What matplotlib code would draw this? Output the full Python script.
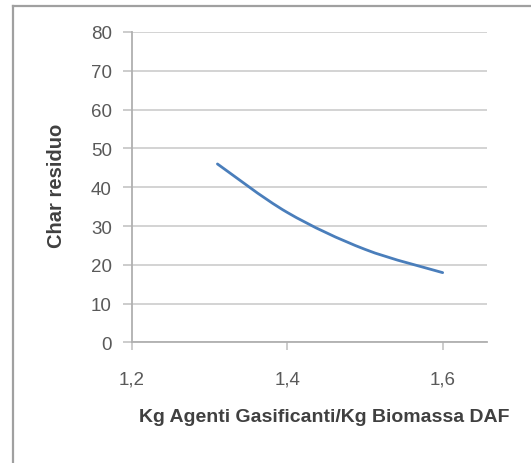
import numpy as np
import matplotlib
matplotlib.use('Agg')
import matplotlib.pyplot as plt
from matplotlib.path import Path
from matplotlib.patches import PathPatch
from matplotlib.lines import Line2D

# Data
kg_ratio = [1.31, 1.40, 1.50, 1.60]
char_residuo = [46.0, 33.5, 24.0, 18.0]

y_ticks = [0, 10, 20, 30, 40, 50, 60, 70, 80]
x_ticks = [1.2, 1.4, 1.6]
x_tick_labels = ['1,2', '1,4', '1,6']


# Smoothed line through the points (Catmull-Rom as cubic Bezier, like Excel "smoothed line")
def smooth_path(xs, ys):
    pts = np.column_stack([xs, ys])
    n = len(pts)
    verts = [pts[0]]
    codes = [Path.MOVETO]
    for i in range(n - 1):
        p0 = pts[max(i - 1, 0)]
        p1 = pts[i]
        p2 = pts[i + 1]
        p3 = pts[min(i + 2, n - 1)]
        c1 = p1 + (p2 - p0) / 6.0
        c2 = p2 - (p3 - p1) / 6.0
        verts += [c1, c2, p2]
        codes += [Path.CURVE4] * 3
    return Path(verts, codes)


fig = plt.figure(figsize=(5.31, 4.64), dpi=100)
fig.patch.set_facecolor('white')

ax = fig.add_axes([0.2486, 0.2597, 0.917 - 0.2486, 0.9289 - 0.2597])

patch = PathPatch(smooth_path(kg_ratio, char_residuo), facecolor='none',
                  edgecolor='#4a7ebb', linewidth=2.0, capstyle='round')
ax.add_patch(patch)

ax.set_xlim(1.2, 1.657)
ax.set_ylim(0, 80)
ax.set_yticks(y_ticks)
ax.set_xticks(x_ticks)
ax.set_xticklabels(x_tick_labels)

ax.yaxis.grid(True, color='#d0d0d0', linewidth=1.3)
ax.set_axisbelow(True)

for s in ['top', 'right']:
    ax.spines[s].set_visible(False)
for s in ['left', 'bottom']:
    ax.spines[s].set_color('#b0b0b0')
    ax.spines[s].set_linewidth(1.3)

ax.tick_params(axis='y', length=6.5, width=1.3, color='#c8c8c8', pad=8,
               labelsize=13.5, labelcolor='#595959')
ax.tick_params(axis='x', length=5.5, width=1.3, color='#c8c8c8', pad=15,
               labelsize=13.5, labelcolor='#595959')
for lbl in ax.get_xticklabels() + ax.get_yticklabels():
    lbl.set_family('Liberation Sans')

fig.text(0.107, 0.599, 'Char residuo', rotation=90, ha='center', va='center',
         fontsize=14.5, fontweight='bold', color='#404040', family='Liberation Sans')
fig.text(0.61, 0.101, 'Kg Agenti Gasificanti/Kg Biomassa DAF', ha='center', va='center',
         fontsize=14, fontweight='bold', color='#404040', family='Liberation Sans')

# chart frame (top and left edges visible)
fig.add_artist(Line2D([13 / 531, 1.0], [1 - 7 / 464, 1 - 7 / 464], transform=fig.transFigure,
                      color='#a0a0a0', linewidth=1.6))
fig.add_artist(Line2D([13 / 531, 13 / 531], [0.0, 1 - 7 / 464], transform=fig.transFigure,
                      color='#a0a0a0', linewidth=1.6))

fig.savefig('out.png', dpi=100)
